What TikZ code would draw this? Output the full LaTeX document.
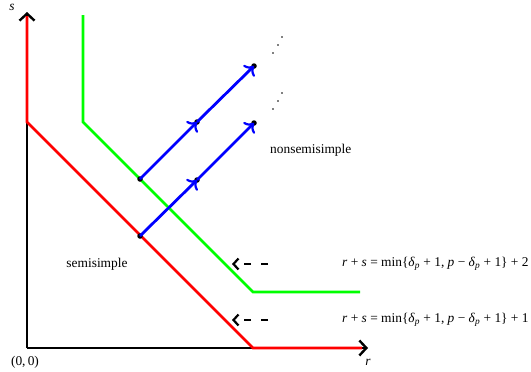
\documentclass[tikz,border=0pt]{standalone}
\usepackage{fontspec}
\setmainfont{Liberation Serif}
\usetikzlibrary{arrows.meta}
\tikzset{
  axis/.style={line width=2.6pt, black, -{Straight Barb[length=7pt,width=15pt,line width=2.4pt]}},
  redl/.style={line width=2.8pt, red},
  greenl/.style={line width=2.8pt, green},
  bluel/.style={line width=2.8pt, blue, -{Computer Modern Rightarrow[length=8pt,width=16pt,line width=2.2pt]}},
  dotpt/.style={circle, fill=black, inner sep=0pt, minimum size=5.5pt},
  tinydot/.style={circle, fill=black, inner sep=0pt, minimum size=1.8pt},
  dasharr/.style={line width=2.6pt, black, dash pattern=on 7pt off 10pt, -{Straight Barb[length=5pt,width=11pt,line width=2.2pt]}},
  lbl/.style={font=\fontsize{13.4}{15}\selectfont, inner sep=0pt},
}
\begin{document}
\begin{tikzpicture}[x=1pt,y=-1pt]
\useasboundingbox (0,0) rectangle (531,372);
% key points
\coordinate (O) at (27,348);
\coordinate (Stip) at (27,12);
\coordinate (Rtip) at (368,348);
\coordinate (R0) at (27,16);
\coordinate (R1) at (27,122);
\coordinate (R2) at (253,348);
\coordinate (R3) at (362,348);
\coordinate (G0) at (83,15);
\coordinate (G1) at (83,122);
\coordinate (G2) at (253,292);
\coordinate (G3) at (360,292);
% axes
\draw[axis] (O) -- (Stip);
\draw[axis] (O) -- (Rtip);
% boundary lines
\draw[redl, line join=miter] (R0) -- (R1) -- (R2) -- (R3);
\draw[greenl] (G0) -- (G1) -- (G2) -- (G3);
% blue arrows
\node[dotpt] (a1) at (140,236) {};
\node[dotpt] (a2) at (197,180) {};
\node[dotpt] (a3) at (254,123) {};
\node[dotpt] (b1) at (140,179) {};
\node[dotpt] (b2) at (197,122) {};
\node[dotpt] (b3) at (254,66) {};
\draw[bluel] (a1.center) -- (a2.center);
\draw[bluel] (a2.center) -- (a3.center);
\draw[bluel] (b1.center) -- (b2.center);
\draw[bluel] (b2.center) -- (b3.center);
% tiny dots
\node[tinydot] (d1) at (273,53) {};
\node[tinydot] (d2) at (278,45) {};
\node[tinydot] (d3) at (282,37) {};
\node[tinydot] (e1) at (273,109) {};
\node[tinydot] (e2) at (278,101) {};
\node[tinydot] (e3) at (282,93) {};
% dashed arrows
\coordinate (p1s) at (268,264);
\coordinate (p1e) at (232,264);
\coordinate (p2s) at (268,320);
\coordinate (p2e) at (232,320);
\draw[dasharr] (p1s) -- (p1e);
\draw[dasharr] (p2s) -- (p2e);
% labels
\node[lbl, anchor=west] (f2) at (342,264) {\textit{r} + \textit{s} = min\{\textit{δ}\textsubscript{\textit{p}} + 1, \textit{p} − \textit{δ}\textsubscript{\textit{p}} + 1\} + 2};
\node[lbl, anchor=west] (f1) at (342,320) {\textit{r} + \textit{s} = min\{\textit{δ}\textsubscript{\textit{p}} + 1, \textit{p} − \textit{δ}\textsubscript{\textit{p}} + 1\} + 1};
\node[lbl, anchor=west] (ns) at (270,150) {nonsemisimple};
\node[lbl] (ss) at (97,264) {semisimple};
\node[lbl] (o) at (25,362) {(0,\,0)};
\node[lbl] (sl) at (12,7) {\textit{s}};
\node[lbl] (rl) at (368,362) {\textit{r}};
\end{tikzpicture}
\end{document}
